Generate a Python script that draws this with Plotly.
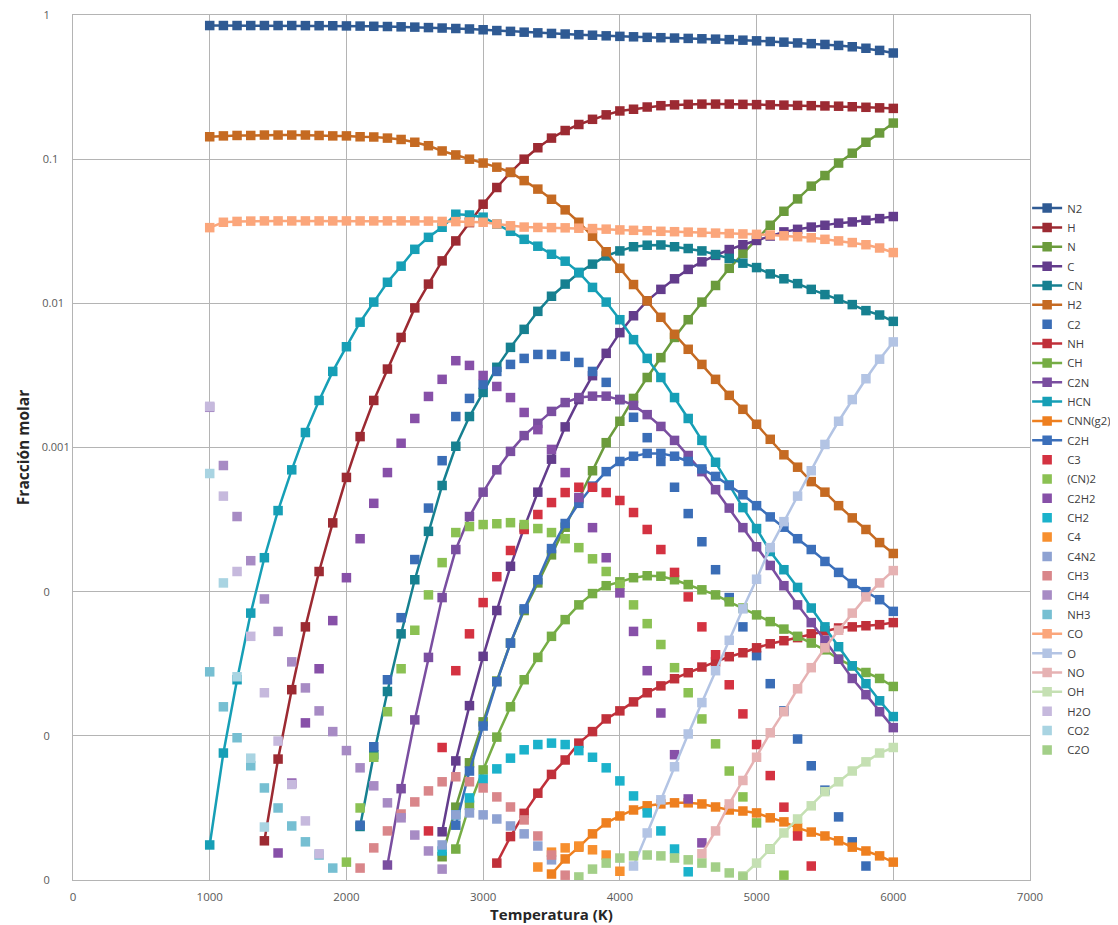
import plotly.graph_objects as go

# Temperature categories (K)
temps = [1000, 1100, 1200, 1300, 1400, 1500, 1600, 1700, 1800, 1900,
         2000, 2100, 2200, 2300, 2400, 2500, 2600, 2700, 2800, 2900,
         3000, 3100, 3200, 3300, 3400, 3500, 3600, 3700, 3800, 3900,
         4000, 4100, 4200, 4300, 4400, 4500, 4600, 4700, 4800, 4900,
         5000, 5100, 5200, 5300, 5400, 5500, 5600, 5700, 5800, 5900, 6000]

# Mole fractions, one value per 100 K starting at each series' first temperature
N2 = [0.845, 0.845, 0.845, 0.845, 0.845, 0.845, 0.845, 0.844, 0.843, 0.842,
      0.840, 0.838, 0.835, 0.832, 0.828, 0.824, 0.818, 0.812, 0.806, 0.800,
      0.790, 0.780, 0.770, 0.760, 0.752, 0.745, 0.738, 0.730, 0.724, 0.717,
      0.711, 0.706, 0.700, 0.696, 0.692, 0.688, 0.684, 0.680, 0.675, 0.669,
      0.662, 0.655, 0.648, 0.640, 0.633, 0.625, 0.615, 0.602, 0.588, 0.568, 0.545]
H = [1.87e-6, 6.9e-6, 2.09e-5, 5.7e-5, 1.38e-4, 3.0e-4,
     6.2e-4, 1.19e-3, 2.12e-3, 3.5e-3, 5.8e-3, 9.3e-3, 0.0136, 0.0197, 0.0271, 0.0363,
     0.0487, 0.0636, 0.081, 0.100, 0.120, 0.140, 0.158, 0.174, 0.189, 0.203,
     0.216, 0.222, 0.230, 0.235, 0.238, 0.240, 0.241, 0.241, 0.241, 0.240,
     0.239, 0.238, 0.237, 0.236, 0.235, 0.234, 0.233, 0.231, 0.229, 0.227, 0.225]
N = [1.45e-6, 3.2e-6, 6.5e-6,
     1.25e-5, 2.4e-5, 4.4e-5, 7.4e-5, 1.15e-4, 1.8e-4, 2.8e-4, 4.4e-4, 6.9e-4, 1.08e-3,
     1.52e-3, 2.19e-3, 3.06e-3, 4.2e-3, 5.8e-3, 7.7e-3, 1.02e-2, 1.33e-2, 1.75e-2, 2.22e-2,
     2.78e-2, 3.48e-2, 4.35e-2, 5.3e-2, 6.5e-2, 7.7e-2, 9.4e-2, 0.110, 0.131, 0.152, 0.178]
C = [2.16e-6, 6.7e-6, 1.62e-5,
     3.56e-5, 7.4e-5, 1.5e-4, 2.78e-4, 4.9e-4, 8.3e-4, 1.39e-3, 2.15e-3, 3.15e-3, 4.5e-3,
     6.26e-3, 8.2e-3, 0.0104, 0.0125, 0.0148, 0.0172, 0.0194, 0.0215, 0.0236, 0.0255,
     0.0273, 0.0293, 0.0313, 0.0326, 0.0338, 0.0348, 0.0360, 0.0367, 0.0377, 0.0387, 0.040]
CN = [2.35e-6, 7.4e-6, 2.03e-5, 5.1e-5, 1.21e-4, 2.62e-4, 5.45e-4, 1.02e-3, 1.64e-3,
      2.41e-3, 3.6e-3, 4.95e-3, 6.6e-3, 8.8e-3, 0.0112, 0.0136, 0.0163, 0.0187, 0.0213,
      0.0231, 0.0247, 0.0253, 0.0254, 0.0247, 0.0240, 0.0231, 0.0218, 0.0205, 0.0190,
      0.0177, 0.0160, 0.0148, 0.0137, 0.0125, 0.0115, 0.0107, 0.0098, 0.0089, 0.0083, 0.0075]
H2 = [0.143, 0.145, 0.146, 0.146, 0.147, 0.147, 0.147, 0.147, 0.146, 0.145,
      0.145, 0.143, 0.1425, 0.140, 0.137, 0.131, 0.124, 0.114, 0.107, 0.100,
      0.094, 0.088, 0.081, 0.071, 0.062, 0.0527, 0.0445, 0.0365, 0.0292, 0.0228,
      0.0175, 0.0135, 0.0104, 0.0080, 0.0061, 0.0048, 0.00377, 0.00297, 0.0023, 0.00184,
      0.00145, 0.00114, 8.9e-4, 7.3e-4, 5.8e-4, 4.9e-4, 3.95e-4, 3.25e-4, 2.7e-4, 2.19e-4, 1.84e-4]
C2 = [2.4e-6, 8.4e-6, 2.45e-5, 6.6e-5, 1.67e-4, 3.8e-4, 8.1e-4, 1.64e-3, 2.19e-3,
      2.74e-3, 3.37e-3, 3.77e-3, 4.15e-3, 4.42e-3, 4.42e-3, 4.29e-3, 3.89e-3, 3.37e-3, 2.83e-3,
      2.15e-3, 1.62e-3, 1.17e-3, 8.0e-4, 5.3e-4, 3.48e-4, 2.22e-4, 1.42e-4, 9.1e-5, 5.7e-5,
      3.6e-5, 2.3e-5, 1.49e-5, 9.5e-6, 6.2e-6, 4.2e-6, 2.74e-6, 1.84e-6, 1.25e-6]
NH = [1.31e-6, 2.0e-6, 2.9e-6, 4.0e-6, 5.4e-6, 6.8e-6, 8.9e-6, 1.07e-5, 1.31e-5,
      1.49e-5, 1.72e-5, 1.99e-5, 2.22e-5, 2.49e-5, 2.74e-5, 3.0e-5, 3.26e-5, 3.54e-5, 3.77e-5,
      4.08e-5, 4.35e-5, 4.57e-5, 4.8e-5, 5.1e-5, 5.36e-5, 5.6e-5, 5.7e-5, 5.8e-5, 5.9e-5, 6.1e-5]
CH = [1.64e-6, 3.3e-6,
      5.8e-6, 9.8e-6, 1.59e-5, 2.45e-5, 3.5e-5, 4.9e-5, 6.4e-5, 8.1e-5, 9.7e-5, 1.10e-4,
      1.17e-4, 1.25e-4, 1.29e-4, 1.28e-4, 1.21e-4, 1.12e-4, 1.03e-4, 9.5e-5, 8.5e-5, 7.7e-5,
      6.9e-5, 6.2e-5, 5.5e-5, 4.9e-5, 4.4e-5, 3.95e-5, 3.4e-5, 3.05e-5, 2.75e-5, 2.5e-5, 2.2e-5]
C2N = [1.27e-6, 4.3e-6, 1.29e-5, 3.5e-5, 9.1e-5, 1.96e-4, 3.32e-4,
       4.9e-4, 7.0e-4, 9.4e-4, 1.21e-3, 1.47e-3, 1.78e-3, 2.05e-3, 2.22e-3, 2.27e-3, 2.27e-3,
       2.15e-3, 1.96e-3, 1.69e-3, 1.40e-3, 1.12e-3, 8.8e-4, 6.8e-4, 5.1e-4, 3.8e-4, 2.78e-4,
       2.05e-4, 1.52e-4, 1.10e-4, 8.1e-5, 6.1e-5, 4.6e-5, 3.4e-5, 2.5e-5, 1.93e-5, 1.47e-5, 1.14e-5]
HCN = [1.75e-6, 7.6e-6, 2.45e-5, 7.1e-5, 1.72e-4, 3.65e-4, 7.0e-4, 1.27e-3, 2.12e-3, 3.37e-3,
       5.0e-3, 7.4e-3, 0.0102, 0.0140, 0.0181, 0.0237, 0.0287, 0.0337, 0.0415, 0.0410,
       0.0396, 0.0354, 0.0316, 0.0278, 0.0249, 0.0219, 0.0196, 0.0164, 0.0129, 0.0102,
       7.7e-3, 5.6e-3, 4.15e-3, 3.06e-3, 2.22e-3, 1.59e-3, 1.12e-3, 7.9e-4, 5.5e-4, 3.83e-4,
       2.74e-4, 1.90e-4, 1.42e-4, 1.07e-4, 7.7e-5, 5.7e-5, 4.15e-5, 3.06e-5, 2.3e-5, 1.75e-5, 1.36e-5]
CNN_g2 = [1.10e-6, 1.40e-6, 1.69e-6, 2.09e-6, 2.49e-6,
          2.78e-6, 3.06e-6, 3.27e-6, 3.37e-6, 3.43e-6, 3.43e-6, 3.37e-6, 3.21e-6, 3.06e-6, 3.01e-6,
          2.92e-6, 2.70e-6, 2.53e-6, 2.30e-6, 2.15e-6, 2.02e-6, 1.87e-6, 1.69e-6, 1.59e-6, 1.47e-6, 1.33e-6]
C2H = [2.4e-6, 5.7e-6,
       1.17e-5, 2.37e-5, 4.4e-5, 7.6e-5, 1.21e-4, 1.99e-4, 2.97e-4, 4.1e-4, 5.4e-4, 6.8e-4,
       8.0e-4, 8.7e-4, 9.1e-4, 9.1e-4, 8.7e-4, 8.0e-4, 7.1e-4, 6.3e-4, 5.45e-4, 4.7e-4,
       3.95e-4, 3.3e-4, 2.8e-4, 2.33e-4, 1.96e-4, 1.62e-4, 1.36e-4, 1.14e-4, 1.0e-4, 8.8e-5, 7.3e-5]
C3 = [2.19e-6, 8.3e-6, 2.83e-5, 5.1e-5,
      8.4e-5, 1.27e-4, 1.93e-4, 2.7e-4, 3.43e-4, 4.15e-4, 4.87e-4, 5.3e-4, 5.3e-4, 4.87e-4,
      4.29e-4, 3.54e-4, 2.7e-4, 1.96e-4, 1.36e-4, 9.2e-5, 5.7e-5, 3.65e-5, 2.26e-5, 1.42e-5,
      8.7e-6, 5.3e-6, 3.2e-6, 2.02e-6, 1.25e-6]
CN2 = [1.33e-6, 3.16e-6, 7.1e-6, 1.47e-5, 2.92e-5, 5.4e-5, 9.5e-5, 1.59e-4, 2.57e-4, 2.83e-4,
       2.92e-4, 2.96e-4, 3.01e-4, 2.92e-4, 2.74e-4, 2.57e-4, 2.33e-4, 2.02e-4, 1.69e-4, 1.38e-4,
       1.12e-4, 8.1e-5, 6.0e-5, 4.3e-5, 2.97e-5, 1.99e-5, 1.31e-5, 8.8e-6, 5.7e-6, 3.77e-6,
       2.49e-6, 1.64e-6, 1.08e-6]
C2H2 = [1.54e-6, 4.7e-6, 1.23e-5, 2.92e-5, 6.3e-5,
        1.25e-4, 2.33e-4, 4.1e-4, 6.7e-4, 1.07e-3, 1.59e-3, 2.26e-3, 2.97e-3, 4.0e-3, 3.71e-3,
        3.16e-3, 2.65e-3, 2.22e-3, 1.75e-3, 1.33e-3, 9.7e-4, 6.7e-4, 4.5e-4, 2.78e-4, 1.72e-4,
        9.8e-5, 5.3e-5, 2.83e-5, 1.44e-5, 7.4e-6, 3.65e-6, 1.81e-6]
CH2 = [1.59e-6, 2.83e-6, 3.71e-6,
       5.0e-6, 5.9e-6, 7.0e-6, 8.0e-6, 8.7e-6, 8.9e-6, 8.7e-6, 7.9e-6, 7.1e-6, 6.0e-6,
       4.87e-6, 3.83e-6, 2.92e-6, 2.19e-6, 1.64e-6, 1.14e-6]
C4 = [1.23e-6, 1.56e-6, 1.67e-6, 1.72e-6, 1.62e-6, 1.49e-6, 1.15e-6]
C4N2 = [1.75e-6, 2.83e-6, 2.92e-6, 2.83e-6, 2.65e-6, 2.37e-6, 2.09e-6, 1.72e-6, 1.38e-6]
CH3 = [1.21e-6, 1.67e-6, 2.19e-6, 2.87e-6, 3.48e-6, 4.15e-6, 4.8e-6, 5.2e-6, 4.8e-6,
       4.35e-6, 3.77e-6, 3.21e-6, 2.61e-6, 2.02e-6, 1.49e-6, 1.08e-6]
CH4 = [1.90e-3, 7.5e-4, 3.32e-4, 1.64e-4, 8.9e-5, 5.3e-5, 3.26e-5, 2.15e-5, 1.49e-5, 1.07e-5,
       7.9e-6, 6.0e-6, 4.5e-6, 3.43e-6, 2.7e-6, 2.05e-6, 1.59e-6, 1.19e-6]
NH3 = [2.78e-5, 1.59e-5, 9.7e-6, 6.2e-6, 4.35e-6, 3.16e-6, 2.37e-6, 1.84e-6, 1.49e-6, 1.21e-6]
CO = [0.0335, 0.0365, 0.0370, 0.0372, 0.0373, 0.0373, 0.0373, 0.0373, 0.0373, 0.0373,
      0.0373, 0.0373, 0.0373, 0.0373, 0.0373, 0.0373, 0.0372, 0.0370, 0.0369, 0.0367,
      0.0365, 0.0355, 0.0345, 0.0338, 0.0336, 0.0335, 0.0334, 0.0332, 0.0330, 0.0327,
      0.0323, 0.0321, 0.0319, 0.0316, 0.0314, 0.0312, 0.0310, 0.0307, 0.0305, 0.0303,
      0.0301, 0.0298, 0.0294, 0.0290, 0.0285, 0.0278, 0.0271, 0.0264, 0.0255, 0.0242, 0.0225]
O = [1.25e-6, 2.12e-6, 3.6e-6, 6.1e-6, 1.03e-5, 1.70e-5, 2.83e-5, 4.6e-5, 7.6e-5,
     1.22e-4, 2.02e-4, 3.06e-4, 4.6e-4, 6.9e-4, 1.05e-3, 1.52e-3, 2.15e-3, 3.0e-3, 4.1e-3, 5.4e-3]
NO = [1.52e-6, 2.19e-6, 3.37e-6, 4.9e-6,
      7.1e-6, 1.05e-5, 1.47e-5, 2.12e-5, 2.97e-5, 4.08e-5, 5.4e-5, 7.1e-5, 9.2e-5, 1.15e-4, 1.40e-4]
OH = [1.07e-6, 1.31e-6, 1.64e-6, 2.12e-6, 2.65e-6, 3.27e-6, 4.1e-6, 4.8e-6, 5.7e-6, 6.6e-6, 7.6e-6, 8.3e-6]
H2O = [1.93e-3, 4.6e-4, 1.38e-4, 4.9e-5, 1.99e-5, 9.2e-6, 4.6e-6, 2.57e-6, 1.52e-6]
CO2 = [6.6e-4, 1.15e-4, 2.57e-5, 7.0e-6, 2.33e-6]
C2O = [1.05e-6, 1.19e-6, 1.31e-6, 1.42e-6, 1.47e-6, 1.49e-6, 1.47e-6, 1.42e-6, 1.38e-6,
       1.31e-6, 1.23e-6, 1.12e-6, 1.05e-6]

# y tick labels as printed on the original axis (general number format)
y_tick_values = [1e-6, 1e-5, 1e-4, 1e-3, 1e-2, 1e-1, 1]
y_tick_labels = ["0", "0", "0", "0.001", "0.01", "0.1", "1"]
x_tick_values = [0, 1000, 2000, 3000, 4000, 5000, 6000, 7000]

# legend order: (name, values, first temperature, colour, drawn with line)
series = [
    ("N2", N2, 1000, "#2f5a93", True),
    ("H", H, 1400, "#9c2a32", True),
    ("N", N, 2700, "#6b9b3c", True),
    ("C", C, 2700, "#633c8c", True),
    ("CN", CN, 2100, "#168090", True),
    ("H2", H2, 1000, "#c56a22", True),
    ("C2", C2, 2100, "#3a6db6", False),
    ("NH", NH, 3100, "#c0303a", True),
    ("CH", CH, 2800, "#76ad45", True),
    ("C2N", C2N, 2300, "#7a4ea0", True),
    ("HCN", HCN, 1000, "#169fb6", True),
    ("CNN(g2)", CNN_g2, 3500, "#ee7f1f", True),
    ("C2H", C2H, 2800, "#3b6fba", True),
    ("C3", C3, 2600, "#d43241", False),
    ("(CN)2", CN2, 2000, "#8bc153", False),
    ("C2H2", C2H2, 1500, "#8750a8", False),
    ("CH2", CH2, 2700, "#1bb2cb", False),
    ("C4", C4, 3400, "#f78f2e", False),
    ("C4N2", C4N2, 2700, "#8ea2d2", False),
    ("CH3", CH3, 2100, "#d9868a", False),
    ("CH4", CH4, 1000, "#a78bc4", False),
    ("NH3", NH3, 1000, "#76bfd2", False),
    ("CO", CO, 1000, "#fba67b", True),
    ("O", O, 4100, "#b3c4e4", True),
    ("NO", NO, 4600, "#e6b2b3", True),
    ("OH", OH, 4900, "#c5e0b3", True),
    ("H2O", H2O, 1000, "#c6b9dd", False),
    ("CO2", CO2, 1000, "#a9d4e2", False),
    ("C2O", C2O, 3700, "#a3cf88", False),
]

fig = go.Figure()
for name, vals, t0, col, line in series:
    i0 = temps.index(t0)
    xs = temps[i0:i0 + len(vals)]
    fig.add_trace(go.Scatter(
        x=xs, y=vals, name=name, legendgroup=name,
        mode="lines+markers" if line else "markers",
        line=dict(color=col, width=2.5),
        marker=dict(symbol="square", size=9.5, color=col, line=dict(width=0)),
    ))

# left-aligned look of the original y labels
pad = "\u00a0"
y_text = []
for lab in y_tick_labels:
    y_text.append(lab + pad * max(0, round((28 - 6.3 * len(lab.replace(".", "")) - 2.8 * lab.count(".")) / 2.9)))

grid = "#b4b4b4"
fig.update_layout(
    width=1110, height=917,
    margin=dict(l=65, r=88, t=7, b=45, autoexpand=False),
    paper_bgcolor="white", plot_bgcolor="white",
    font=dict(family="Open Sans, Arial, sans-serif", size=11, color="#595959"),
    showlegend=True,
    legend=dict(x=0.997, y=0.7935, xanchor="left", yanchor="top",
                font=dict(size=11.3, color="#404040"), itemwidth=30,
                bgcolor="rgba(0,0,0,0)", tracegroupgap=0.35),
    xaxis=dict(range=[0, 7000], tickvals=x_tick_values,
               showgrid=True, gridcolor=grid, gridwidth=1.2, zeroline=False,
               showline=True, linecolor=grid, linewidth=1.2, mirror=True, ticks="",
               ticklabelstandoff=6,
               tickfont=dict(size=11.5, color="#595959"),
               title=dict(text="<b>Temperatura (K)</b>", standoff=0,
                          font=dict(size=15, color="#262626"))),
    yaxis=dict(type="log", range=[-6, 0],
               tickvals=y_tick_values, ticktext=y_text, ticklabeloverflow="allow",
               showgrid=True, gridcolor=grid, gridwidth=1.2, zeroline=False,
               showline=True, linecolor=grid, linewidth=1.2, mirror=True, ticks="",
               tickfont=dict(size=11, color="#595959"),
               title=dict(text="<b>Fracción molar</b>", standoff=8,
                          font=dict(size=15.5, color="#262626"))),
)

fig.write_html("out.html")
